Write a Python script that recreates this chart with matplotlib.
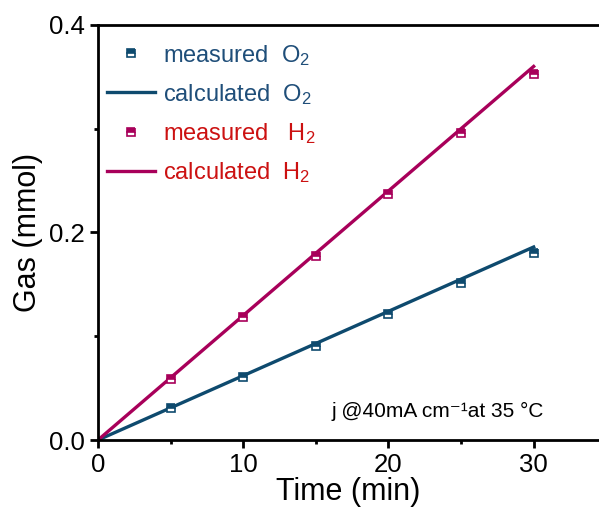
import matplotlib
matplotlib.use("Agg")
import matplotlib.pyplot as plt
from matplotlib.ticker import MultipleLocator, FormatStrFormatter

plt.rcParams["font.family"] = ["Liberation Sans", "DejaVu Sans"]
plt.rcParams["mathtext.fontset"] = "custom"
plt.rcParams["mathtext.rm"] = "Liberation Sans"
plt.rcParams["mathtext.it"] = "Liberation Sans:italic"

# data
time_meas = [5, 10, 15, 20, 25, 30]
o2_meas = [0.031, 0.061, 0.091, 0.121, 0.151, 0.180]
h2_meas = [0.059, 0.119, 0.177, 0.237, 0.296, 0.353]
time_calc = [0, 5, 10, 15, 20, 25, 30]
o2_calc = [0, 0.031, 0.062, 0.093, 0.124, 0.155, 0.186]
h2_calc = [0, 0.06, 0.12, 0.18, 0.24, 0.30, 0.36]

c_o2 = "#0E4A6E"
c_h2 = "#A8005A"
c_o2_txt = "#1F4E79"
c_h2_txt = "#CC1111"

fig = plt.figure(figsize=(5.99, 5.15), dpi=100)
ax = fig.add_axes([0.1636, 0.1456, 0.8364, 0.806])

l1, = ax.plot(time_meas, o2_meas, ls="none", marker="s", ms=5.5, mew=1.2,
              color=c_o2, fillstyle="top", markerfacecoloralt="white",
              label=r"measured  O$_2$", zorder=3)
l2, = ax.plot(time_calc, o2_calc, color=c_o2, lw=2.4, label=r"calculated  O$_2$")
l3, = ax.plot(time_meas, h2_meas, ls="none", marker="s", ms=5.5, mew=1.2,
              color=c_h2, fillstyle="top", markerfacecoloralt="white",
              label=r"measured   H$_2$", zorder=3)
l4, = ax.plot(time_calc, h2_calc, color=c_h2, lw=2.4, label=r"calculated  H$_2$")

ax.set_xlim(0, 34.5)
ax.set_ylim(0, 0.4)
ax.xaxis.set_major_locator(MultipleLocator(10))
ax.xaxis.set_minor_locator(MultipleLocator(5))
ax.yaxis.set_major_locator(MultipleLocator(0.2))
ax.yaxis.set_minor_locator(MultipleLocator(0.1))
ax.yaxis.set_major_formatter(FormatStrFormatter("%.1f"))
ax.tick_params(which="major", direction="out", length=6, width=2, labelsize=18.5)
ax.tick_params(which="minor", direction="out", length=3, width=2)
for s in ["left", "bottom", "top"]:
    ax.spines[s].set_linewidth(2)
ax.spines["right"].set_visible(False)

ax.set_xlabel("Time (min)", fontsize=22, labelpad=0)
ax.set_ylabel("Gas (mmol)", fontsize=22, labelpad=4)

leg = ax.legend(handles=[l1, l2, l3, l4], loc="upper left", frameon=False,
                fontsize=17, handlelength=2.0, handletextpad=0.35,
                labelspacing=0.6, borderaxespad=0.1, borderpad=0.3,
                bbox_to_anchor=(0.0, 0.98))
for t, c in zip(leg.get_texts(), [c_o2_txt, c_o2_txt, c_h2_txt, c_h2_txt]):
    t.set_color(c)

ax.text(30.7, 0.022, "j @40mA cm\u207b\u00b9at 35 \u00b0C", fontsize=15,
        ha="right", va="baseline")

fig.savefig("out.png", dpi=100)
